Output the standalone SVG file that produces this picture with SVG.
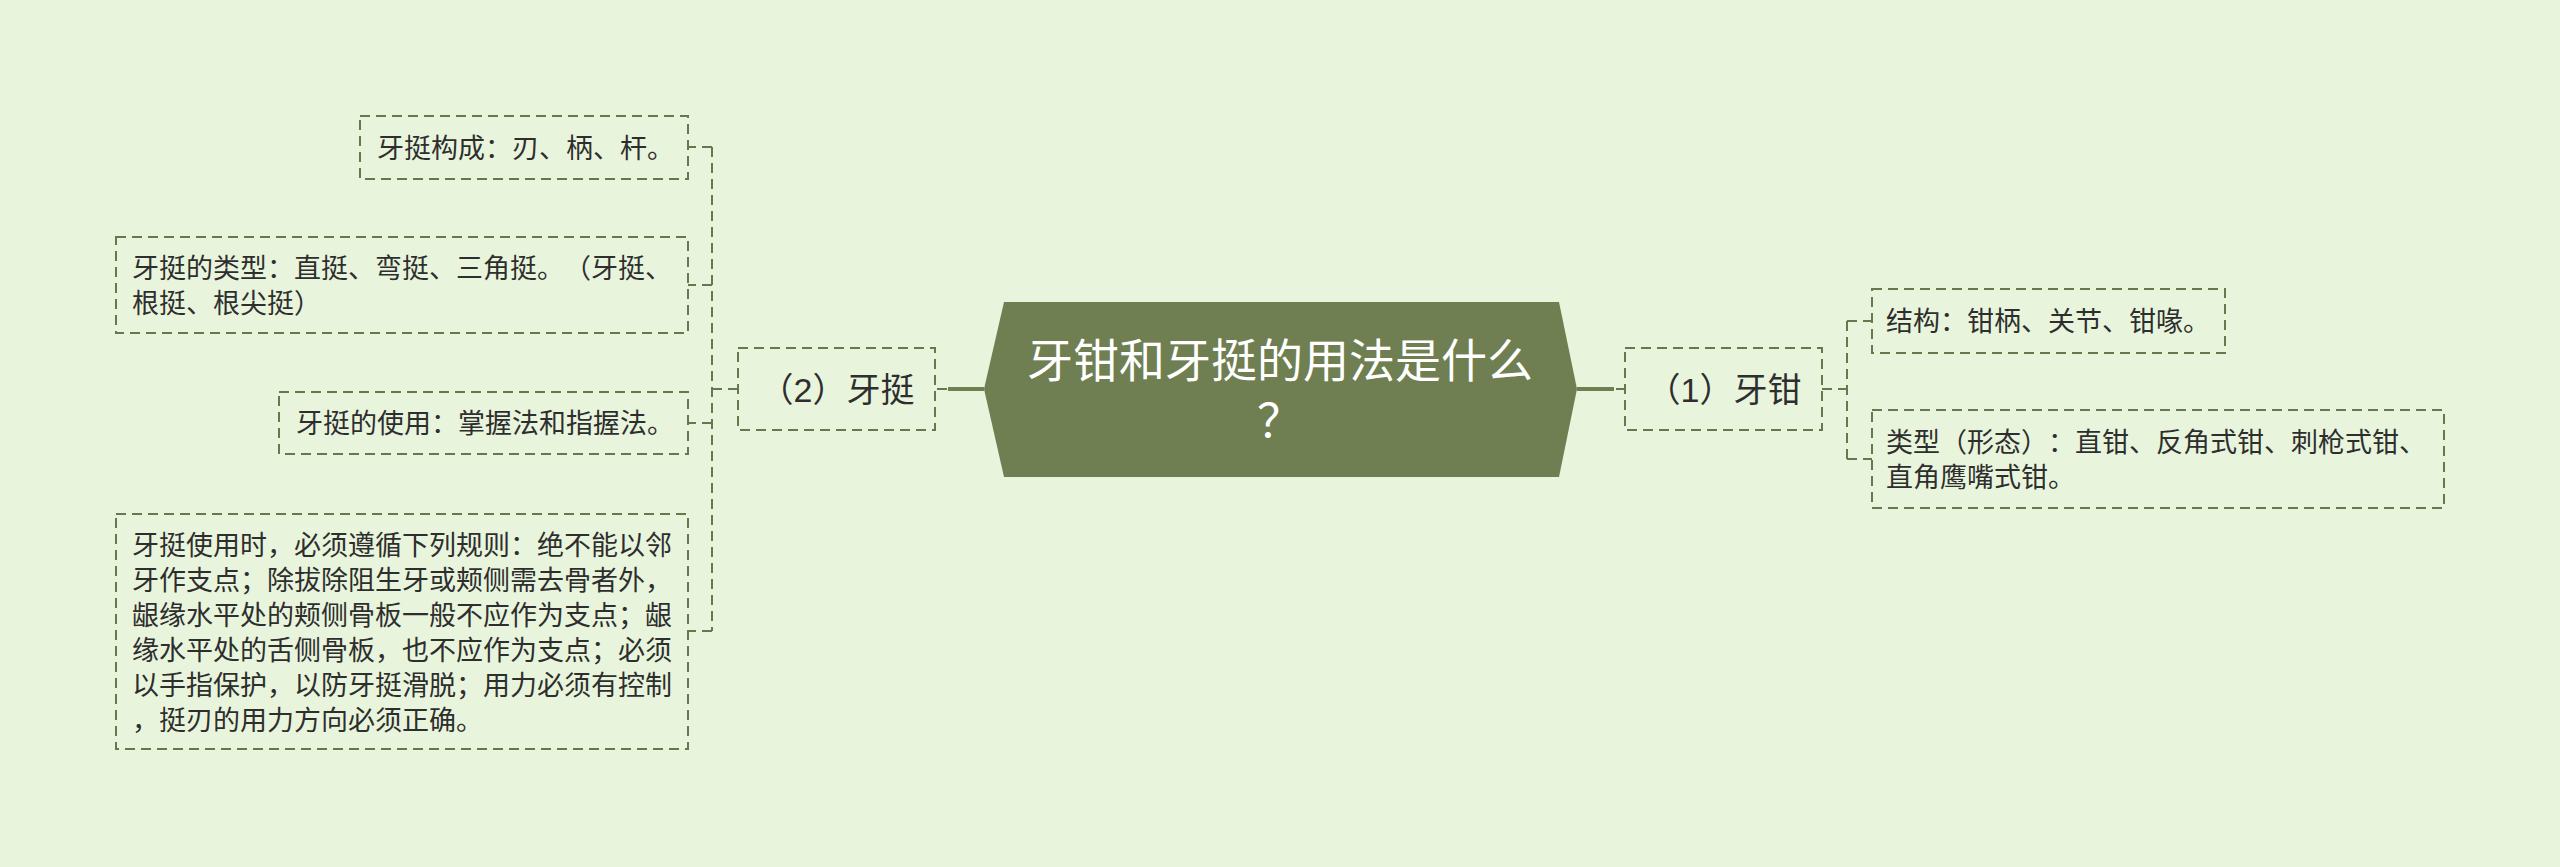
<svg xmlns="http://www.w3.org/2000/svg" width="2560" height="867" viewBox="0 0 2560 867">
<style>
.bg{fill:#e8f5dc}
.box{fill:none;stroke:#67784f;stroke-width:2;stroke-dasharray:10 6}
.dash{fill:none;stroke:#67784f;stroke-width:2;stroke-dasharray:10 6}
.solid{fill:none;stroke:#6f7f52;stroke-width:4}
text{text-spacing-trim:space-all}
.t{font-family:"Liberation Sans","Noto Sans CJK SC",sans-serif;font-size:27px;fill:#2e2e2e}
.sub{font-family:"Liberation Sans","Noto Sans CJK SC",sans-serif;font-size:34px;fill:#2e2e2e}
.main{font-family:"Liberation Sans","Noto Sans CJK SC",sans-serif;font-size:46px;fill:#ffffff}
</style>
<rect class="bg" x="0" y="0" width="2560" height="867"/>
<g id="connectors">
  <path class="solid" d="M984 389 H948"/>
  <path class="dash" d="M947 389 H935"/>
  <path class="solid" d="M1577 389 H1614"/>
  <path class="dash" d="M1616 389 H1625"/>
  <path class="dash" d="M738 389 H712"/>
  <path class="dash" d="M712 147 V631"/>
  <path class="dash" d="M712 147 H688"/>
  <path class="dash" d="M712 285 H688"/>
  <path class="dash" d="M712 423 H688"/>
  <path class="dash" d="M712 631 H688"/>
  <path class="dash" d="M1822 389 H1847"/>
  <path class="dash" d="M1847 321 V459"/>
  <path class="dash" d="M1847 321 H1872"/>
  <path class="dash" d="M1847 459 H1872"/>
</g>
<g id="root">
  <polygon points="1004,302 1559,302 1577,389 1559,477 1004,477 984,389" fill="#6f7f52"/>
  <text class="main" x="1280" y="377" text-anchor="middle">牙钳和牙挺的用法是什么</text>
  <text class="main" x="1280" y="437" text-anchor="middle">？</text>
</g>
<g id="n1">
  <rect class="box" x="1625" y="348" width="197" height="82"/>
  <text class="sub" x="1724" y="402" text-anchor="middle">（1）牙钳</text>
</g>
<g id="n2">
  <rect class="box" x="738" y="348" width="197" height="82"/>
  <text class="sub" x="837" y="402" text-anchor="middle">（2）牙挺</text>
</g>
<g id="n1a">
  <rect class="box" x="1872" y="289" width="353" height="64"/>
  <text class="t" x="1886" y="331">结构：钳柄、关节、钳喙。</text>
</g>
<g id="n1b">
  <rect class="box" x="1872" y="410" width="572" height="98"/>
  <text class="t" x="1886" y="452">类型（形态）：直钳、反角式钳、刺枪式钳、</text>
  <text class="t" x="1886" y="487">直角鹰嘴式钳。</text>
</g>
<g id="n2a">
  <rect class="box" x="360" y="116" width="328" height="63"/>
  <text class="t" x="377" y="158">牙挺构成：刃、柄、杆。</text>
</g>
<g id="n2b">
  <rect class="box" x="116" y="237" width="572" height="96"/>
  <text class="t" x="132" y="278">牙挺的类型：直挺、弯挺、三角挺。（牙挺、</text>
  <text class="t" x="132" y="313">根挺、根尖挺）</text>
</g>
<g id="n2c">
  <rect class="box" x="279" y="392" width="409" height="62"/>
  <text class="t" x="296" y="433">牙挺的使用：掌握法和指握法。</text>
</g>
<g id="n2d">
  <rect class="box" x="116" y="514" width="572" height="235"/>
  <text class="t" x="132" y="555">牙挺使用时，必须遵循下列规则：绝不能以邻</text>
  <text class="t" x="132" y="590">牙作支点；除拔除阻生牙或颊侧需去骨者外，</text>
  <text class="t" x="132" y="625">龈缘水平处的颊侧骨板一般不应作为支点；龈</text>
  <text class="t" x="132" y="660">缘水平处的舌侧骨板，也不应作为支点；必须</text>
  <text class="t" x="132" y="695">以手指保护，以防牙挺滑脱；用力必须有控制</text>
  <text class="t" x="132" y="730">，挺刃的用力方向必须正确。</text>
</g>
</svg>
